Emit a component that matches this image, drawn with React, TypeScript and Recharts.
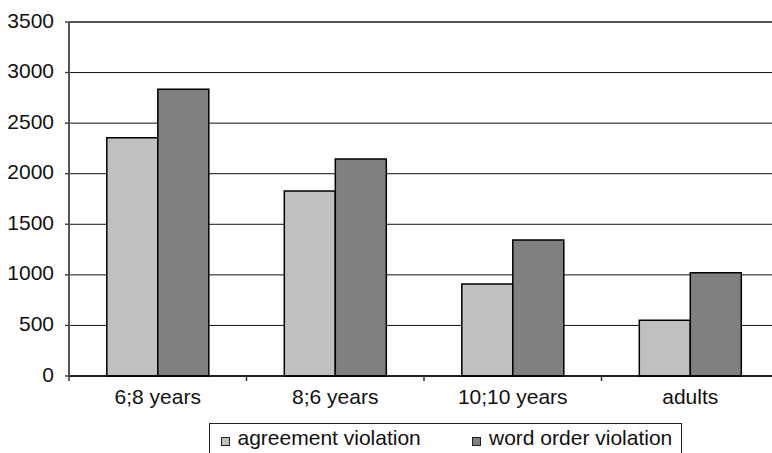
import { Bar, BarChart, CartesianGrid, Legend, ReferenceLine, XAxis, YAxis } from 'recharts'

const groups = ['6;8 years', '8;6 years', '10;10 years', 'adults']
const agreement = [2355, 1830, 910, 550]
const wordOrder = [2835, 2145, 1345, 1020]
const yTicks = [0, 500, 1000, 1500, 2000, 2500, 3000, 3500]
const seriesNames = ['agreement violation', 'word order violation']

const data = groups.map((g, i) => ({ group: g, agreement: agreement[i], wordOrder: wordOrder[i] }))

const FONT = '"Liberation Sans", Arial, sans-serif'
const CHART_W = 784
const CHART_H = 453
const MARGIN = { top: 22, right: 5, bottom: 0, left: 0 }
const Y_AXIS_W = 69
const BAND = (CHART_W - MARGIN.left - MARGIN.right - Y_AXIS_W) / groups.length

function XTick({ x, y, payload, index }: any) {
  const last = index === groups.length - 1
  return (
    <g>
      <line x1={x - BAND / 2} x2={x - BAND / 2} y1={y} y2={y + 5} stroke="#333" strokeWidth={1.5} />
      {last && <line x1={x + BAND / 2} x2={x + BAND / 2} y1={y} y2={y + 5} stroke="#333" strokeWidth={1.5} />}
      <text x={x} y={y + 27.5} textAnchor="middle" fontSize={21} fontFamily={FONT} fill="#111">
        {payload.value}
      </text>
    </g>
  )
}

function YTick({ x, y, payload }: any) {
  return (
    <g>
      <line x1={x - 4} x2={x} y1={y} y2={y} stroke="#444" strokeWidth={1.5} />
      <text x={x - 15} y={y + 5.5} textAnchor="end" fontSize={21} fontFamily={FONT} fill="#111">
        {payload.value}
      </text>
    </g>
  )
}

function LegendBox() {
  const text = { position: 'absolute' as const, top: 2, fontSize: 21, lineHeight: '24px', fontFamily: FONT, color: '#111', whiteSpace: 'nowrap' as const }
  const square = { position: 'absolute' as const, top: 12.5, width: 7, height: 7, border: '1px solid #222' }
  return (
    <div style={{ position: 'relative', width: 471, height: 40, border: '1px solid #222', background: '#fff' }}>
      <div style={{ ...square, left: 11, background: '#c0c0c0' }} />
      <div style={{ ...text, left: 27.5 }}>{seriesNames[0]}</div>
      <div style={{ ...square, left: 261.5, background: '#808080' }} />
      <div style={{ ...text, left: 279 }}>{seriesNames[1]}</div>
    </div>
  )
}

export default function App() {
  return (
    <div style={{ position: 'absolute', left: 0, top: 0, width: 772, height: 453, overflow: 'hidden', background: '#fff' }}>
      <BarChart width={CHART_W} height={CHART_H} data={data} margin={MARGIN} barCategoryGap="21.3%" barGap={0}>
        <CartesianGrid vertical={false} stroke="#111" strokeWidth={1} />
        <ReferenceLine y={3500} stroke="#555" strokeWidth={2} />
        <XAxis
          dataKey="group"
          height={CHART_H - 376 - MARGIN.bottom}
          tickLine={false}
          tickSize={0}
          tickMargin={0}
          axisLine={{ stroke: '#000', strokeWidth: 1.5 }}
          tick={<XTick />}
          interval={0}
        />
        <YAxis
          width={Y_AXIS_W}
          domain={[0, 3500]}
          ticks={yTicks}
          tickLine={false}
          tickSize={0}
          tickMargin={0}
          axisLine={{ stroke: '#555', strokeWidth: 2 }}
          tick={<YTick />}
          interval={0}
        />
        <Legend
          layout="horizontal"
          verticalAlign="middle"
          content={() => <LegendBox />}
          wrapperStyle={{ left: 209, top: 423, width: 473, height: 42 }}
        />
        <Bar dataKey="agreement" name={seriesNames[0]} fill="#c0c0c0" stroke="#000" strokeWidth={1.5} isAnimationActive={false} />
        <Bar dataKey="wordOrder" name={seriesNames[1]} fill="#808080" stroke="#000" strokeWidth={1.5} isAnimationActive={false} />
      </BarChart>
    </div>
  )
}
